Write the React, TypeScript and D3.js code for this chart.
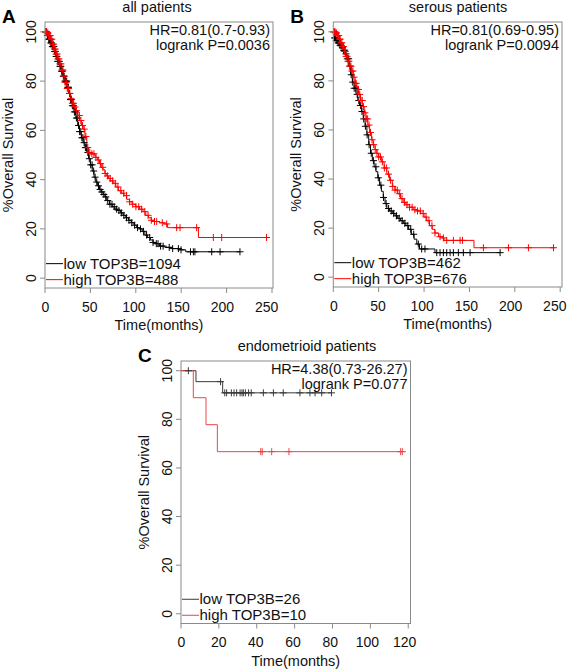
import React from "react";
import * as d3 from "d3";

// ---------- DATA ----------
const yTicks = [0, 20, 40, 60, 80, 100];
const xTicksAB = [0, 50, 100, 150, 200, 250];
const xTicksC = [0, 20, 40, 60, 80, 100, 120];

// Panel A: all patients  [time (months), % survival]
const lowA: [number, number][] = [
  [0, 100], [2, 98.5], [4, 97], [6, 95.5], [8, 94], [10, 92], [12, 90], [14, 88], [16, 86], [18, 84],
  [20, 82], [22, 80], [24, 77.5], [26, 75], [28, 72.5], [30, 70], [32, 67.5], [34, 65], [36, 62],
  [38, 59.5], [40, 57], [42, 55], [44, 53], [46, 51], [48, 48.5], [50, 46], [52, 43.5], [54, 41],
  [56, 39], [58, 37.5], [60, 36], [62, 35], [64, 34], [66, 33], [68, 31.5], [71, 30], [74, 29],
  [77, 28], [80, 27.5], [83, 26.5], [86, 25.5], [89, 24.5], [92, 23.5], [95, 22.5], [98, 21.5],
  [101, 20.5], [104, 20], [107, 19], [110, 17.5], [113, 16.5], [116, 15.5], [119, 14.5], [122, 14],
  [126, 13], [132, 12.5], [140, 12], [147, 11.5], [155, 10.7], [214.7, 10.7],
];
const highA: [number, number][] = [
  [0, 100], [2, 99.5], [4, 98.5], [6, 97], [8, 95], [10, 93], [12, 91], [14, 89], [16, 87], [18, 84.5],
  [20, 82], [22, 79.5], [24, 77], [26, 75], [28, 73], [30, 71], [32, 69.5], [34, 68], [36, 66],
  [38, 64], [40, 62], [42, 60.5], [44, 57.5], [46, 53], [48, 51], [50, 50.5], [54, 50], [56, 49],
  [58, 48], [60, 46.5], [62, 45], [64, 44], [66, 42.5], [68, 41.5], [70, 40.5], [72, 39.5],
  [75, 38.5], [78, 37], [81, 35.5], [84, 34.5], [87, 33.5], [90, 32], [93, 31], [96, 30], [100, 29],
  [104, 28], [108, 27], [111, 25.5], [114, 24.5], [117, 23.5], [120, 23], [126, 22.5], [131, 22],
  [135, 20.5], [169, 16.5], [244, 16.5],
];
const lowACensor = [
  0.5, 1.2, 1.8, 2.6, 3.3, 4.1, 4.9, 5.6, 6.4, 7.2, 8.1, 8.9, 9.7, 10.6, 11.4, 12.3, 13.1, 14.0, 14.8,
  15.7, 16.5, 17.4, 18.3, 19.1, 20.2, 21.0, 22.1, 23.0, 23.9, 25.0, 25.9, 27.0, 28.1, 29.0, 30.2,
  31.3, 32.4, 33.5, 34.6, 35.8, 36.9, 38.1, 39.4, 40.6, 41.8, 43.1, 44.5, 45.9, 47.2, 48.8, 50.3,
  51.9, 53.6, 55.2, 57.0, 58.9, 60.7, 62.6, 64.8, 66.9, 69.1, 71.5, 73.8, 76.2, 78.9, 81.4, 84.1,
  86.9, 89.8, 92.5, 95.6, 98.7, 101.9, 105.2, 108.4, 111.9, 115.3, 119.0, 122.6, 124.5, 127.3,
  130.1, 136.8, 140.6, 146.9, 149.8, 160.2, 163.4, 165.1, 183.6, 192.8, 214.7,
];
const highACensor = [
  0.7, 1.5, 2.4, 3.2, 4.0, 4.9, 5.8, 6.6, 7.5, 8.5, 9.4, 10.3, 11.3, 12.2, 13.3, 14.2, 15.3, 16.4,
  17.5, 18.6, 19.8, 20.9, 22.1, 23.4, 24.6, 25.9, 27.3, 28.6, 30.1, 31.5, 33.0, 34.6, 36.2, 37.9,
  39.5, 41.3, 43.2, 45.0, 47.1, 49.3, 51.6, 53.9, 56.1, 58.6, 61.2, 63.6, 66.3, 68.9, 71.7, 74.5,
  77.4, 80.3, 83.5, 86.7, 89.8, 93.2, 96.6, 100.1, 103.2, 106.4, 109.9, 113.5, 117.1, 120.6, 123.0,
  129.2, 134.0, 145.0, 148.7, 167.0, 185.4, 194.6, 244.0,
];

// Panel B: serous patients
const lowB: [number, number][] = [
  [0, 100], [1, 97.5], [3, 96.5], [5, 95.5], [7, 94.5], [9, 93.5], [11, 92.5], [13, 91], [15, 89],
  [17, 86], [19, 82.5], [21, 79.5], [23, 77], [25, 74.5], [27, 72], [29, 70], [31, 67.5], [33, 64.5],
  [35, 61.5], [37, 58], [39, 54], [41, 50.5], [43, 47.5], [45, 45], [47, 43], [49, 40.5], [51, 37.5],
  [53, 35], [55, 32.5], [57, 30], [59, 28], [62, 27], [65, 26], [68, 25], [71, 24], [74, 23],
  [77, 22], [80, 21], [83, 19.5], [86, 17.5], [89, 15.5], [92, 13.5], [95, 11.5], [112, 10], [183.8, 10],
];
const highB: [number, number][] = [
  [0, 100], [2, 99.5], [4, 98.5], [6, 97], [8, 95.5], [10, 94], [12, 92], [14, 90], [16, 88], [18, 86],
  [20, 84], [22, 81.5], [24, 79], [26, 76.5], [28, 74.5], [30, 72], [32, 69.5], [34, 67], [36, 64.5],
  [38, 62], [40, 59], [42, 56], [44, 54], [46, 52], [48, 50.5], [50, 49], [53, 47], [56, 44.5],
  [59, 42], [62, 39.5], [65, 37], [68, 35.5], [71, 34], [74, 32], [77, 30.5], [80, 29.5], [84, 28.5],
  [88, 27.5], [92, 27], [96, 26], [100, 24.5], [103, 23], [106, 21], [109, 19.5], [112, 18],
  [116, 16.5], [120, 16], [122, 15], [155, 12], [244, 12],
];
const lowBCensor = [
  0.6, 1.4, 2.3, 3.3, 4.2, 5.3, 6.4, 7.5, 8.8, 10.0, 11.3, 12.6, 14.0, 15.4, 16.9, 18.3, 19.8, 21.4,
  23.0, 24.7, 26.3, 28.1, 29.9, 31.6, 33.5, 35.4, 37.3, 39.5, 41.8, 44.2, 46.9, 49.6, 52.4, 55.3,
  58.2, 60.9, 63.8, 66.5, 69.7, 72.6, 75.9, 78.8, 82.1, 85.3, 88.6, 93.7, 97.4, 101.0, 114.0, 117.6,
  121.3, 125.0, 128.7, 132.3, 137.8, 143.3, 150.7, 183.8,
];
const highBCensor = [
  0.5, 1.2, 1.9, 2.7, 3.5, 4.3, 5.1, 5.9, 6.8, 7.6, 8.5, 9.4, 10.3, 11.2, 12.2, 13.1, 14.1, 15.1,
  16.2, 17.2, 18.3, 19.4, 20.5, 21.6, 22.8, 24.0, 25.2, 26.5, 27.8, 29.1, 30.5, 31.9, 33.3, 34.8,
  36.3, 37.8, 39.4, 41.0, 42.7, 44.4, 46.2, 48.1, 50.0, 52.0, 54.1, 56.3, 58.5, 60.8, 63.1, 65.5,
  68.0, 70.5, 73.1, 75.7, 78.4, 81.2, 84.0, 86.9, 89.9, 92.8, 95.9, 99.0, 102.2, 105.4, 108.7,
  112.0, 117.6, 121.3, 125.0, 132.3, 139.7, 142.3, 165.4, 193.0, 215.0, 242.6,
];

// Panel C: endometrioid patients
const lowC: [number, number][] = [[0, 100], [7.9, 95.5], [22.0, 90.9], [79.5, 90.9]];
const highC: [number, number][] = [[0, 100], [6.5, 88.9], [13.2, 77.8], [19.2, 66.7], [116.9, 66.7]];
const lowCCensor = [3.9, 20.9, 23.1, 24.1, 26.6, 28.0, 29.4, 31.2, 32.2, 32.9, 34.0, 35.7, 37.1, 43.5, 48.8, 54.0, 62.8, 68.1, 70.8, 74.3, 79.5];
const highCCensor = [42.1, 42.9, 47.9, 57.0, 116.0, 116.9];

// ---------- RENDER ----------
const FONT = "'Liberation Sans', Arial, Helvetica, sans-serif";
const FRAME = "#8a8a8a";
const RED = "#ff0000";
const BLACK = "#000000";

type PanelSpec = {
  letter: string;
  title: string;
  titleX: number;
  x0: number; x1: number; y0: number; y1: number; // frame
  xmax: number;
  xTicks: number[];
  labelSqueeze: number;
  hr: string;
  pval: string;
  lowLabel: string;
  highLabel: string;
  low: [number, number][];
  high: [number, number][];
  lowCensor: number[];
  highCensor: number[];
  lowColor: string;
  highColor: string;
};

function survAt(curve: [number, number][], t: number) {
  let s = curve[0][1];
  for (const [tt, v] of curve) {
    if (tt <= t + 1e-9) s = v; else break;
  }
  return s;
}

function Panel({ p }: { p: PanelSpec }) {
  const x = d3.scaleLinear().domain([0, p.xmax]).range([p.x0, p.x1]);
  const y = d3.scaleLinear().domain([-4, 104]).range([p.y1, p.y0]);
  const line = d3
    .line<[number, number]>()
    .x((d) => x(d[0]))
    .y((d) => y(d[1]))
    .curve(d3.curveStepAfter);
  const midY = (p.y0 + p.y1) / 2;
  const cross = (cx: number, cy: number) =>
    `M${cx - 3.5},${cy}h7M${cx},${cy - 3.5}v7`;
  const censorPath = (curve: [number, number][], times: number[]) =>
    times.map((t) => cross(x(t), y(survAt(curve, t)))).join("");
  const legY1 = y(0) - 14.5;
  const legY2 = y(0) + 1.5;
  const labelX = (v: number) => x(0) + 0.5 + (x(v) - x(0)) * p.labelSqueeze;
  return (
    <g fontFamily={FONT}>
      <text x={p.x0 - 43} y={p.y0 + 1} fontSize={19} fontWeight="bold" fill="#000">
        {p.letter}
      </text>
      <text x={p.titleX} y={p.y0 - 10} fontSize={14.5} textAnchor="middle" fill="#111">
        {p.title}
      </text>
      {/* curves */}
      <path d={line(p.low) || ""} fill="none" stroke={p.lowColor} strokeWidth={1} />
      <path d={line(p.high) || ""} fill="none" stroke={p.highColor} strokeWidth={1} />
      <path d={censorPath(p.low, p.lowCensor)} fill="none" stroke={p.lowColor} strokeWidth={1} />
      <path d={censorPath(p.high, p.highCensor)} fill="none" stroke={p.highColor} strokeWidth={1} />
      {/* frame */}
      <rect x={p.x0} y={p.y0} width={p.x1 - p.x0} height={p.y1 - p.y0} fill="none" stroke={FRAME} strokeWidth={1} />
      {/* y axis */}
      {yTicks.map((v) => (
        <g key={"y" + v}>
          <line x1={p.x0 - 5} x2={p.x0} y1={y(v)} y2={y(v)} stroke={FRAME} />
          <text
            transform={`translate(${p.x0 - 9},${y(v)}) rotate(-90)`}
            fontSize={14}
            textAnchor="middle"
            fill="#111"
          >
            {v}
          </text>
        </g>
      ))}
      <text
        transform={`translate(${p.x0 - 32},${midY}) rotate(-90)`}
        fontSize={14.5}
        textAnchor="middle"
        fill="#111"
      >
        %Overall Survival
      </text>
      {/* x axis */}
      {p.xTicks.map((v) => (
        <g key={"x" + v}>
          <line x1={x(v)} x2={x(v)} y1={p.y1} y2={p.y1 + 5} stroke={FRAME} />
          <text x={labelX(v)} y={p.y1 + 23.5} fontSize={14} textAnchor="middle" fill="#111">
            {v}
          </text>
        </g>
      ))}
      <text x={(p.x0 + p.x1) / 2} y={p.y1 + 42} fontSize={14.5} textAnchor="middle" fill="#111">
        Time(months)
      </text>
      {/* annotations */}
      <text x={p.x1 - 3} y={p.y0 + 13} fontSize={14.5} textAnchor="end" fill="#111">
        {p.hr}
      </text>
      <text x={p.x1 - 3} y={p.y0 + 28} fontSize={14.5} textAnchor="end" fill="#111">
        {p.pval}
      </text>
      {/* legend */}
      <line x1={p.x0 + 1} x2={p.x0 + 18} y1={legY1} y2={legY1} stroke={p.lowColor} />
      <line x1={p.x0 + 1} x2={p.x0 + 18} y1={legY2} y2={legY2} stroke={p.highColor} />
      <text x={p.x0 + 18.5} y={legY1 + 5} fontSize={15} fill="#111">
        {p.lowLabel}
      </text>
      <text x={p.x0 + 18.5} y={legY2 + 5} fontSize={15} fill="#111">
        {p.highLabel}
      </text>
    </g>
  );
}

const panels: PanelSpec[] = [
  {
    letter: "A", title: "all patients", titleX: 157,
    x0: 45, x1: 273, y0: 22, y1: 288, xmax: 251.1, xTicks: xTicksAB, labelSqueeze: 0.974,
    hr: "HR=0.81(0.7-0.93)", pval: "logrank P=0.0036",
    lowLabel: "low TOP3B=1094", highLabel: "high TOP3B=488",
    low: lowA, high: highA, lowCensor: lowACensor, highCensor: highACensor,
    lowColor: BLACK, highColor: RED,
  },
  {
    letter: "B", title: "serous patients", titleX: 458,
    x0: 333.3, x1: 562, y0: 22, y1: 287, xmax: 252, xTicks: xTicksAB, labelSqueeze: 0.974,
    hr: "HR=0.81(0.69-0.95)", pval: "logrank P=0.0094",
    lowLabel: "low TOP3B=462", highLabel: "high TOP3B=676",
    low: lowB, high: highB, lowCensor: lowBCensor, highCensor: highBCensor,
    lowColor: BLACK, highColor: RED,
  },
  {
    letter: "C", title: "endometrioid patients", titleX: 307,
    x0: 181, x1: 410.5, y0: 361, y1: 623.5, xmax: 121.2, xTicks: xTicksC, labelSqueeze: 0.982,
    hr: "HR=4.38(0.73-26.27)", pval: "logrank P=0.077",
    lowLabel: "low TOP3B=26", highLabel: "high TOP3B=10",
    low: lowC, high: highC, lowCensor: lowCCensor, highCensor: highCCensor,
    lowColor: "#3a3a3a", highColor: "#e8474a",
  },
];

export default function App() {
  return (
    <svg
      width={567}
      height={671}
      viewBox="0 0 567 671"
      style={{ position: "absolute", left: 0, top: 0, background: "#fff" }}
    >
      <rect x={0} y={0} width={567} height={671} fill="#fff" />
      {panels.map((p) => (
        <Panel key={p.letter} p={p} />
      ))}
    </svg>
  );
}
